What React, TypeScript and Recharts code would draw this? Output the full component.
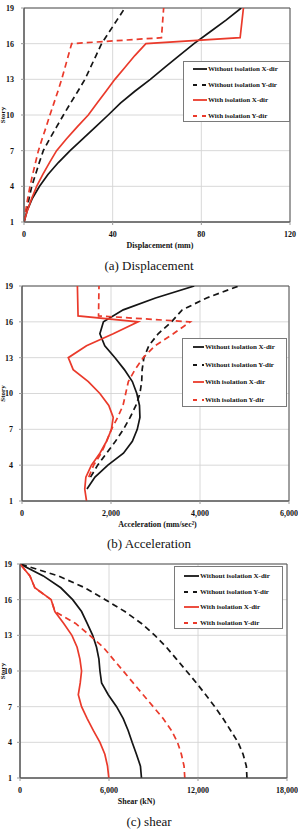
import React from 'react';
import { LineChart, Line, XAxis, YAxis, CartesianGrid, ReferenceArea, Label } from 'recharts';

const SERIF = '"Liberation Serif", "Times New Roman", serif';
const BLACK = '#151515';
const RED = '#ea3a2b';

const SERIES_NAMES = [
  'Without isolation X-dir',
  'Without isolation Y-dir',
  'With isolation X-dir',
  'With isolation Y-dir',
];
const STORY_TICKS = [1, 4, 7, 10, 13, 16, 19];
const STORIES = [1, 2, 3, 4, 5, 6, 7, 8, 9, 10, 11, 12, 13, 14, 15, 16, 17, 18, 19];

// (a) Displacement, mm
const DISP_TICKS = [0, 40, 80, 120];
const dispNoIsoX = [0, 1.5, 3.8, 7, 10.8, 15.5, 20.8, 26.5, 32.3, 38, 43.5, 50, 57, 63.5, 70, 76.7, 84, 91.3, 98];
const dispNoIsoY = [0, 1.2, 2.3, 3.5, 5.2, 6.9, 8.7, 11.6, 14.7, 17.8, 21, 24.3, 27.5, 30, 32.5, 35, 38.5, 42, 45.5];
const dispIsoStories = [1, 2, 3, 4, 5, 6, 7, 8, 9, 10, 11, 12, 13, 14, 15, 16, 16.5, 19];
const dispIsoX = [0, 1.6, 3.5, 5.7, 8.5, 11.5, 14.7, 19.2, 24, 29, 33, 37, 41, 45.5, 50, 55, 97.5, 99];
const dispIsoY = [0, 0.8, 1.7, 2.7, 3.9, 5.2, 6.5, 8.2, 10, 11.7, 13.5, 15.3, 17, 18.5, 20, 21.5, 62, 63];

// (b) Acceleration, mm/sec²
const ACC_TICKS = [0, 2000, 4000, 6000];
const accNoIsoXStories = [2, 3, 4, 5, 6, 7, 8, 9, 10, 11, 12, 13, 14, 15, 16, 17, 18, 19];
const accNoIsoX = [1460, 1640, 1930, 2280, 2480, 2590, 2650, 2640, 2580, 2480, 2300, 2090, 1860, 1750, 1830, 2275, 3000, 3870];
const accNoIsoYStories = [3, 4, 5, 6, 7, 8, 9, 10, 11, 12, 13, 14, 15, 16, 17, 18, 19];
const accNoIsoY = [1540, 1700, 1900, 2100, 2280, 2430, 2560, 2650, 2690, 2700, 2740, 2850, 3060, 3360, 3600, 4150, 4870];
const accIsoXStories = [1, 2, 3, 4, 5, 6, 7, 8, 9, 10, 11, 12, 13, 14, 15, 16, 16.5, 19];
const accIsoX = [1450, 1410, 1435, 1560, 1750, 1900, 2010, 2050, 1950, 1750, 1490, 1150, 1040, 1450, 2050, 2610, 1260, 1245];
const accIsoYStories = [3, 4, 5, 6, 7, 8, 9, 10, 11, 12, 13, 14, 15, 16, 16.5, 19];
const accIsoY = [1500, 1610, 1780, 1900, 2010, 2150, 2270, 2330, 2390, 2540, 2725, 2990, 3400, 3780, 1720, 1730];

// (c) Storey shear, kN
const SHEAR_TICKS = [0, 6000, 12000, 18000];
const shearNoIsoX = [8190, 8120, 7850, 7560, 7290, 6960, 6510, 5950, 5500, 5390, 5320, 5160, 4900, 4530, 4150, 3550, 2750, 1570, 0];
const shearNoIsoY = [15300, 15260, 15040, 14700, 14200, 13690, 13130, 12520, 11890, 11220, 10550, 9870, 9090, 8190, 7070, 5750, 4380, 2580, 0];
const shearIsoX = [5990, 5900, 5720, 5390, 4940, 4530, 4150, 3930, 4060, 4150, 4040, 3850, 3500, 2950, 2350, 2100, 1000, 670, 0];
const shearIsoY = [11110, 11060, 10880, 10620, 10210, 9650, 8980, 8300, 7630, 6960, 6280, 5610, 4700, 3750, 2360, 2100, 1000, 670, 0];

type Pt = { story: number; v: number };
const zip = (stories: number[], values: number[]): Pt[] =>
  stories.map((s, i) => ({ story: s, v: values[i] }));

const SERIES_STYLE = [
  { color: BLACK, dash: undefined as string | undefined },
  { color: BLACK, dash: '6 4' },
  { color: RED, dash: undefined as string | undefined },
  { color: RED, dash: '6 4' },
];

type LegendBox = { x: number; y: number; w: number; h: number; first: number; step: number; s0: number; s1: number; tx: number };

type PanelProps = {
  top: number;
  height: number;
  plotLeft: number;
  right: number;
  yTickMargin: number;
  domain: [number, number];
  ticks: number[];
  title: string;
  titleDx: number;
  series: Pt[][];
  legend: LegendBox;
  caption: string;
  captionY: number;
};

const fmt = (n: number) => n.toLocaleString('en-US');

const tickStyle = { fill: '#111', fontSize: 8, fontWeight: 'bold' as const, fontFamily: SERIF };

function StoryLabel(props: any) {
  const vb = props.viewBox || { x: 0, y: 0, width: 0, height: 0 };
  const cy = vb.y + vb.height / 2;
  return (
    <text
      x={5}
      y={cy}
      transform={`rotate(-90, 5, ${cy})`}
      textAnchor="middle"
      fill="#111"
      fontSize={7}
      fontWeight="bold"
      fontFamily={SERIF}
    >
      Story
    </text>
  );
}

function Panel(p: PanelProps) {
  const lg = p.legend;
  return (
    <div style={{ position: 'absolute', left: 0, top: p.top, width: 298, height: p.height + 30 }}>
      <LineChart
        width={298}
        height={p.height}
        layout="vertical"
        margin={{ top: 8, right: p.right, bottom: 0, left: 0 }}
      >
        <CartesianGrid stroke="#d4d4d4" strokeWidth={0.9} />
        <XAxis
          type="number"
          domain={p.domain}
          ticks={p.ticks}
          interval={0}
          tickFormatter={fmt}
          height={30}
          allowDataOverflow
          axisLine={{ stroke: '#555' }}
          tickLine={{ stroke: '#999' }}
          tickSize={3}
          tickMargin={6}
          tick={tickStyle}
        >
          <Label
            value={p.title}
            position="insideBottom"
            offset={4}
            dx={p.titleDx}
            fill="#111"
            fontSize={8}
            fontWeight="bold"
            fontFamily={SERIF}
          />
        </XAxis>
        <YAxis
          type="number"
          dataKey="story"
          domain={[1, 19]}
          ticks={STORY_TICKS}
          interval={0}
          reversed
          width={p.plotLeft}
          allowDataOverflow
          axisLine={{ stroke: '#555' }}
          tickLine={{ stroke: '#999' }}
          tickSize={3}
          tickMargin={p.yTickMargin}
          tick={tickStyle}
        >
          <Label content={StoryLabel} />
        </YAxis>
        <ReferenceArea
          x1={p.domain[0]}
          x2={p.domain[1]}
          y1={1}
          y2={19}
          fill="none"
          fillOpacity={0}
          stroke="#555"
          strokeWidth={1}
        />
        {p.series.map((d, i) => (
          <Line
            key={SERIES_NAMES[i]}
            name={SERIES_NAMES[i]}
            data={d}
            dataKey="v"
            type="linear"
            stroke={SERIES_STYLE[i].color}
            strokeWidth={1.7}
            strokeDasharray={SERIES_STYLE[i].dash}
            dot={false}
            activeDot={false}
            isAnimationActive={false}
          />
        ))}
      </LineChart>
      <div
        style={{
          position: 'absolute',
          left: lg.x,
          top: lg.y - p.top,
          width: lg.w,
          height: lg.h,
          boxSizing: 'border-box',
          border: '1px solid #7a7a7a',
          background: '#fff',
        }}
      >
        {SERIES_NAMES.map((name, i) => {
          const cy = lg.first + i * lg.step;
          return (
            <div key={name} style={{ position: 'absolute', left: 0, top: cy - 6, height: 12, width: lg.w - 2 }}>
              <svg width={lg.s1 + 1} height={12} style={{ position: 'absolute', left: 0, top: 0 }}>
                <line
                  x1={lg.s0}
                  x2={lg.s1}
                  y1={6}
                  y2={6}
                  stroke={SERIES_STYLE[i].color}
                  strokeWidth={1.8}
                  strokeDasharray={SERIES_STYLE[i].dash ? '4 5' : undefined}
                />
              </svg>
              <span
                style={{
                  position: 'absolute',
                  left: lg.tx,
                  top: 0,
                  lineHeight: '12px',
                  fontSize: 7,
                  fontWeight: 'bold',
                  fontFamily: SERIF,
                  color: '#111',
                  whiteSpace: 'nowrap',
                }}
              >
                {name}
              </span>
            </div>
          );
        })}
      </div>
      <div
        style={{
          position: 'absolute',
          left: 0,
          width: 298,
          top: p.captionY - p.top - 8,
          height: 16,
          lineHeight: '16px',
          textAlign: 'center',
          fontFamily: SERIF,
          fontSize: 13,
          color: '#111',
        }}
      >
        {p.caption}
      </div>
    </div>
  );
}

export default function App() {
  return (
    <div
      style={{
        position: 'absolute',
        left: 0,
        top: 0,
        width: 298,
        height: 832,
        background: '#fff',
        overflow: 'hidden',
      }}
    >
      <Panel
        top={0}
        height={252}
        plotLeft={24}
        right={8}
        yTickMargin={7}
        domain={[0, 120]}
        ticks={DISP_TICKS}
        title="Displacement (mm)"
        titleDx={3}
        series={[
          zip(STORIES, dispNoIsoX),
          zip(STORIES, dispNoIsoY),
          zip(dispIsoStories, dispIsoX),
          zip(dispIsoStories, dispIsoY),
        ]}
        legend={{ x: 183, y: 61, w: 107, h: 61, first: 7, step: 15.5, s0: 9, s1: 23, tx: 24 }}
        caption="(a) Displacement"
        captionY={266}
      />
      <Panel
        top={278}
        height={253}
        plotLeft={22}
        right={9}
        yTickMargin={6}
        domain={[0, 6000]}
        ticks={ACC_TICKS}
        title="Acceleration (mm/sec²)"
        titleDx={2}
        series={[
          zip(accNoIsoXStories, accNoIsoX),
          zip(accNoIsoYStories, accNoIsoY),
          zip(accIsoXStories, accIsoX),
          zip(accIsoYStories, accIsoY),
        ]}
        legend={{ x: 182, y: 338, w: 105, h: 69, first: 8, step: 17.7, s0: 10, s1: 21, tx: 22 }}
        caption="(b) Acceleration"
        captionY={544}
      />
      <Panel
        top={556}
        height={252}
        plotLeft={20}
        right={11}
        yTickMargin={5}
        domain={[0, 18000]}
        ticks={SHEAR_TICKS}
        title="Shear (kN)"
        titleDx={-17}
        series={[
          zip(STORIES, shearNoIsoX),
          zip(STORIES, shearNoIsoY),
          zip(STORIES, shearIsoX),
          zip(STORIES, shearIsoY),
        ]}
        legend={{ x: 174, y: 566, w: 109, h: 63, first: 9, step: 15.7, s0: 9, s1: 24, tx: 25 }}
        caption="(c) shear"
        captionY={822}
      />
    </div>
  );
}
